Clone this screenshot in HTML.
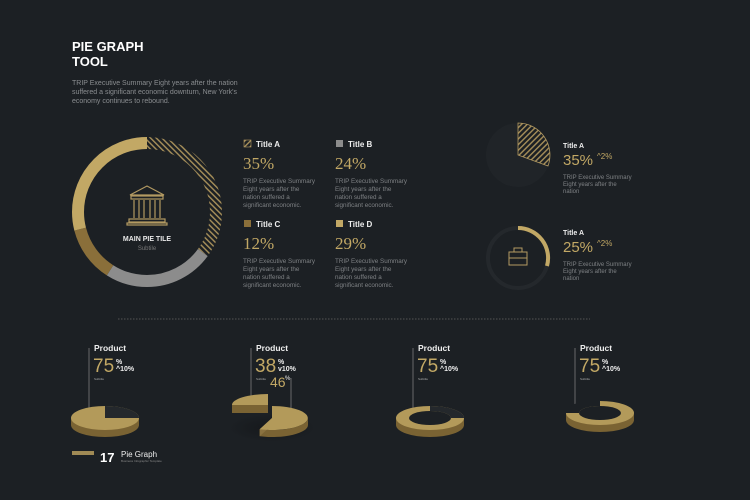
<!DOCTYPE html>
<html><head><meta charset="utf-8"><style>
body{margin:0;background:#1c2024;}
svg{display:block;font-family:"Liberation Sans",sans-serif;}
</style></head><body>
<svg width="750" height="500" viewBox="0 0 750 500">
<defs>
<pattern id="h" width="4" height="4" patternUnits="userSpaceOnUse" patternTransform="rotate(45)">
<rect width="4" height="4" fill="#1c2024"/><rect width="1.4" height="4" fill="#a8905a"/></pattern>
<radialGradient id="sh"><stop offset="0" stop-color="#15181b"/><stop offset="1" stop-color="#1c2024"/></radialGradient>
</defs>
<rect width="750" height="500" fill="#1c2024"/>
<text x="72" y="51" fill="#fff" font-size="13" font-weight="bold">PIE GRAPH</text>
<text x="72" y="66" fill="#fff" font-size="13" font-weight="bold">TOOL</text>
<g fill="#8a8d90" font-size="7">
<text x="72" y="85">TRIP Executive Summary Eight years after the nation</text>
<text x="72" y="94">suffered a significant economic downturn, New York's</text>
<text x="72" y="103">economy continues to rebound.</text></g>

<!-- main donut -->
<g transform="rotate(-90 147 212)" fill="none" stroke-width="12">
<circle cx="147" cy="212" r="69" stroke="url(#h)" stroke-dasharray="151.7 282" />
<circle cx="147" cy="212" r="69" stroke="#8c8c8c" stroke-dasharray="0 151.7 104 178" />
<circle cx="147" cy="212" r="69" stroke="#8a6f3a" stroke-dasharray="0 255.7 52 126" />
<circle cx="147" cy="212" r="69" stroke="#c2a865" stroke-dasharray="0 307.7 126 0" />
</g>
<g stroke="#b39a62" fill="none" stroke-width="1.2">
<path d="M130 195 L147 186 L164 195 Z"/><rect x="131" y="196" width="32" height="3"/>
<path d="M134 200v18M139 200v18M144 200v18M150 200v18M155 200v18M160 200v18"/>
<rect x="129" y="219" width="36" height="3"/><rect x="127" y="223" width="40" height="2"/></g>
<text x="147" y="241" fill="#e8e8e8" font-size="7" font-weight="bold" text-anchor="middle">MAIN PIE TILE</text>
<text x="147" y="250" fill="#777" font-size="6" text-anchor="middle">Subtile</text>

<!-- legend -->
<g font-size="8" font-weight="bold" fill="#eee">
<rect x="244" y="140" width="7" height="7" fill="url(#h)" stroke="#b39a62" stroke-width=".6"/><text x="256" y="147">Title A</text>
<rect x="336" y="140" width="7" height="7" fill="#8c8c8c"/><text x="348" y="147">Title B</text>
<rect x="244" y="220" width="7" height="7" fill="#8a6f3a"/><text x="256" y="227">Title C</text>
<rect x="336" y="220" width="7" height="7" fill="#c2a865"/><text x="348" y="227">Title D</text></g>
<g font-size="17" fill="#c2a865" font-family="Liberation Serif,serif">
<text x="243" y="169">35%</text><text x="335" y="169">24%</text>
<text x="243" y="249">12%</text><text x="335" y="249">29%</text></g>
<g font-size="6.3" fill="#7e8184">
<text x="243" y="183">TRIP Executive Summary</text><text x="243" y="191">Eight years after the</text><text x="243" y="199">nation suffered a</text><text x="243" y="207">significant economic.</text>
<text x="335" y="183">TRIP Executive Summary</text><text x="335" y="191">Eight years after the</text><text x="335" y="199">nation suffered a</text><text x="335" y="207">significant economic.</text>
<text x="243" y="263">TRIP Executive Summary</text><text x="243" y="271">Eight years after the</text><text x="243" y="279">nation suffered a</text><text x="243" y="287">significant economic.</text>
<text x="335" y="263">TRIP Executive Summary</text><text x="335" y="271">Eight years after the</text><text x="335" y="279">nation suffered a</text><text x="335" y="287">significant economic.</text></g>

<!-- right small -->
<circle cx="518" cy="155" r="32" fill="#202428"/>
<path d="M518 155 L518 123 A32 32 0 0 1 548 166 Z" fill="url(#h)" stroke="#b39a62" stroke-width=".8"/>
<circle cx="518" cy="258" r="30" fill="none" stroke="#24282c" stroke-width="4"/>
<path d="M518 228 A30 30 0 0 1 547 266" fill="none" stroke="#c2a865" stroke-width="4"/>
<g stroke="#b39a62" fill="none" stroke-width="1"><rect x="509" y="252" width="18" height="13"/><rect x="514" y="248" width="8" height="4"/><path d="M509 258h18"/></g>
<g font-size="7" fill="#eee" font-weight="bold"><text x="563" y="148">Title A</text><text x="563" y="235">Title A</text></g>
<g font-size="15" fill="#c2a865"><text x="563" y="165">35%</text><text x="563" y="252">25%</text></g>
<g font-size="8" fill="#c2a865"><text x="597" y="159">^2%</text><text x="597" y="246">^2%</text></g>
<g font-size="6" fill="#7e8184"><text x="563" y="179">TRIP Executive Summary</text><text x="563" y="186">Eight years after the</text><text x="563" y="193">nation</text>
<text x="563" y="266">TRIP Executive Summary</text><text x="563" y="273">Eight years after the</text><text x="563" y="280">nation</text></g>

<line x1="118" y1="319" x2="590" y2="319" stroke="#555" stroke-dasharray="1.5 1.5"/>

<!-- bottom labels -->
<g font-size="8.5" font-weight="bold" fill="#eee"><text x="94" y="351">Product</text><text x="256" y="351">Product</text><text x="418" y="351">Product</text><text x="580" y="351">Product</text></g>
<g font-size="19" fill="#c2a865"><text x="93" y="372">75</text><text x="255" y="372">38</text><text x="417" y="372">75</text><text x="579" y="372">75</text></g>
<g font-size="7" font-weight="bold" fill="#eee"><text x="116" y="364">%</text><text x="278" y="364">%</text><text x="440" y="364">%</text><text x="602" y="364">%</text>
<text x="116" y="371">^10%</text><text x="278" y="371">v10%</text><text x="440" y="371">^10%</text><text x="602" y="371">^10%</text></g>
<g font-size="3" fill="#aaa"><text x="94" y="380">Subtitle</text><text x="256" y="380">Subtitle</text><text x="418" y="380">Subtitle</text><text x="580" y="380">Subtitle</text></g>
<text x="270" y="387" font-size="14" fill="#c2a865">46</text><text x="285" y="380" font-size="6" fill="#eee">%</text>
<g stroke="#999" stroke-width=".6"><path d="M89 348V412M251 348V400M413 348V412M575 348V408M291 378V420"/></g>

<!-- pie 1 -->
<ellipse cx="105" cy="425" rx="34" ry="12" fill="#7a6333"/><rect x="71" y="418" width="68" height="7" fill="#7a6333"/>
<ellipse cx="105" cy="418" rx="34" ry="12" fill="#b39a5a"/>
<path d="M105 418 L105 406 A34 12 0 0 1 139 418 Z" fill="#24282c"/>
<!-- pie 2 -->
<ellipse cx="272" cy="428" rx="44" ry="14" fill="url(#sh)"/>
<path d="M232 405 L268 405 L268 413 L232 413 Z" fill="#7a6333"/>
<path d="M268 405 L232 405 A36 11 0 0 1 268 394 Z" fill="#b39a5a"/>
<path d="M308 418 A36 12 0 0 1 259.7 429.3 L259.7 436.3 A36 12 0 0 0 308 425 Z" fill="#7a6333"/>
<path d="M272 418 L259.7 429.3 L259.7 436.3 L272 425 Z" fill="#8a7240"/>
<path d="M272 418 L272 406 A36 12 0 1 1 259.7 429.3 Z" fill="#b39a5a"/>
<!-- pie 3 ring -->
<ellipse cx="430" cy="425" rx="34" ry="12" fill="#7a6333"/><rect x="396" y="418" width="68" height="7" fill="#7a6333"/>
<ellipse cx="430" cy="418" rx="34" ry="12" fill="#b39a5a"/>
<path d="M430 406 A34 12 0 0 1 464 418 L451 418 A21 7 0 0 0 430 411 Z" fill="#24282c"/>
<ellipse cx="430" cy="418" rx="21" ry="7" fill="#1c2024"/>
<!-- pie 4 ring -->
<ellipse cx="600" cy="420" rx="34" ry="12" fill="#7a6333"/><rect x="566" y="413" width="68" height="7" fill="#7a6333"/>
<ellipse cx="600" cy="413" rx="34" ry="12" fill="#b39a5a"/>
<ellipse cx="600" cy="413" rx="21" ry="7" fill="#1c2024"/>
<path d="M565 413 A35 13 0 0 1 600 400 L600 406 A21 7 0 0 0 579 413 Z" fill="#1c2024"/>

<rect x="72" y="451" width="22" height="4" fill="#a08a55"/>
<text x="100" y="462" font-size="13" font-weight="bold" fill="#fff">17</text>
<text x="121" y="457" font-size="8" fill="#eee">Pie Graph</text>
<text x="121" y="462" font-size="3" fill="#888">Business Infographic Template</text>
</svg>
</body></html>
